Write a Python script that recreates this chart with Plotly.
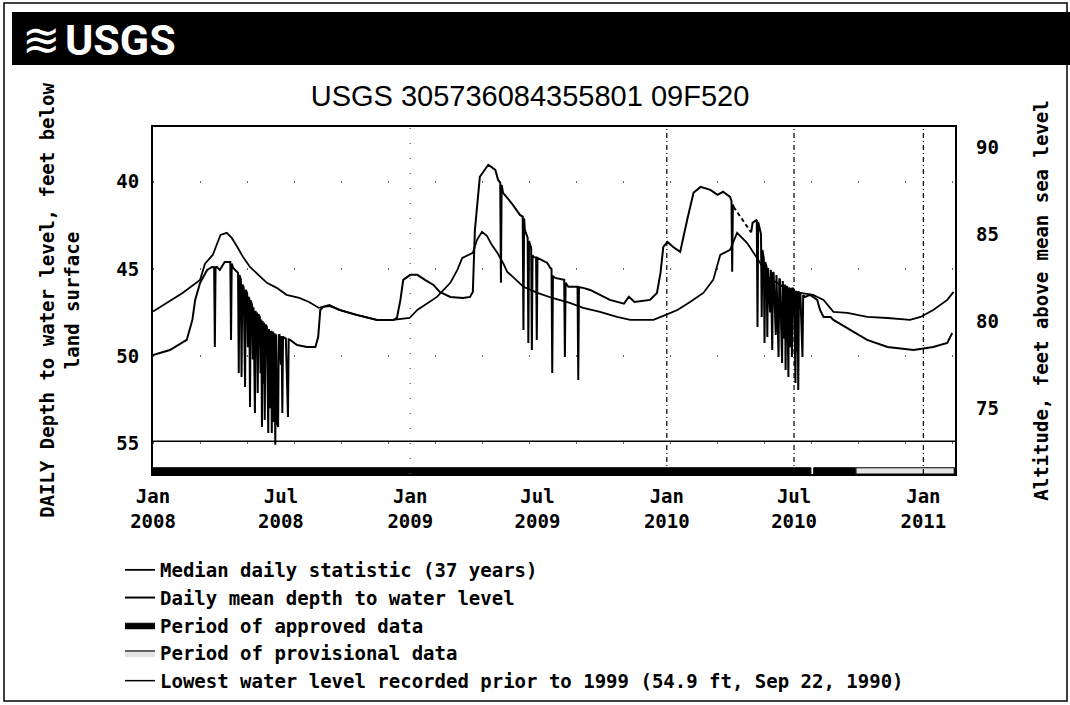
import plotly.graph_objects as go

# ---------------- data ----------------
median_dates = [
    "2008-01-01", "2008-02-12", "2008-03-08", "2008-03-15", "2008-03-26", "2008-04-01",
    "2008-04-06", "2008-04-15", "2008-04-22", "2008-04-30", "2008-05-08", "2008-05-18",
    "2008-05-30", "2008-06-11", "2008-06-25", "2008-07-09", "2008-07-27", "2008-08-10",
    "2008-08-24", "2008-09-08", "2008-09-22", "2008-10-16", "2008-11-14", "2008-12-07",
    "2008-12-31", "2009-01-11", "2009-02-08", "2009-02-27", "2009-03-09", "2009-03-16",
    "2009-03-31", "2009-04-06", "2009-04-13", "2009-04-20", "2009-04-27", "2009-05-05",
    "2009-05-13", "2009-05-19", "2009-05-27", "2009-06-11", "2009-07-01", "2009-07-22",
    "2009-08-16", "2009-09-04", "2009-09-28", "2009-10-22", "2009-11-10", "2009-12-13",
    "2009-12-27", "2010-01-16", "2010-02-03", "2010-02-22", "2010-03-08", "2010-03-18",
    "2010-04-01", "2010-04-11", "2010-04-25", "2010-05-04", "2010-05-14", "2010-05-24",
    "2010-06-07", "2010-06-21", "2010-07-10", "2010-07-28", "2010-08-12", "2010-08-26",
    "2010-09-15", "2010-10-13", "2010-11-11", "2010-12-13", "2010-12-28", "2011-01-15",
    "2011-02-04", "2011-02-13",
]
median_depth = [
    47.45, 46.38, 45.63, 44.70, 44.20, 43.62,
    43.05, 42.93, 43.22, 43.74, 44.31, 44.89,
    45.34, 45.80, 46.09, 46.49, 46.67, 46.90,
    47.24, 47.07, 47.36, 47.64, 47.93, 47.93,
    47.82, 47.36, 46.61, 45.80, 45.06, 44.37,
    44.08, 43.33, 42.87, 43.10, 43.62, 44.08,
    44.66, 45.17, 45.46, 46.03, 46.38, 46.67,
    46.95, 47.24, 47.47, 47.76, 47.93, 47.93,
    47.70, 47.36, 46.90, 46.38, 45.63, 44.20,
    43.91, 42.93, 43.50, 44.08, 44.66, 45.46,
    45.80, 46.21, 46.38, 46.49, 46.78, 47.47,
    47.53, 47.76, 47.82, 47.93, 47.76, 47.36,
    46.78, 46.32,
]

mean_dates = [
    "2008-01-01", "2008-01-25", "2008-02-18", "2008-02-26", "2008-03-01", "2008-03-08",
    "2008-03-18", "2008-03-25", "2008-03-28", "2008-03-29", "2008-03-30", "2008-04-01",
    "2008-04-05", "2008-04-12", "2008-04-20", "2008-04-21", "2008-04-22", "2008-04-24",
    "2008-05-01", "2008-05-02", "2008-05-03", "2008-05-05", "2008-05-06", "2008-05-07",
    "2008-05-09", "2008-05-10", "2008-05-11", "2008-05-12", "2008-05-14", "2008-05-15",
    "2008-05-16", "2008-05-17", "2008-05-18", "2008-05-19", "2008-05-21", "2008-05-22",
    "2008-05-23", "2008-05-25", "2008-05-26", "2008-05-27", "2008-05-28", "2008-05-29",
    "2008-05-30", "2008-06-01", "2008-06-02", "2008-06-03", "2008-06-04", "2008-06-05",
    "2008-06-06", "2008-06-07", "2008-06-08", "2008-06-09", "2008-06-11", "2008-06-12",
    "2008-06-13", "2008-06-14", "2008-06-16", "2008-06-17", "2008-06-18", "2008-06-19",
    "2008-06-20", "2008-06-21", "2008-06-22", "2008-06-23", "2008-06-24", "2008-06-26",
    "2008-06-27", "2008-06-28", "2008-06-29", "2008-07-01", "2008-07-02", "2008-07-03",
    "2008-07-04", "2008-07-08", "2008-07-11", "2008-07-12", "2008-07-14", "2008-07-24",
    "2008-08-07", "2008-08-19", "2008-08-23", "2008-08-26", "2008-08-30", "2008-09-09",
    "2008-09-23", "2008-10-17", "2008-11-15", "2008-12-08", "2008-12-13", "2008-12-18",
    "2008-12-22", "2009-01-01", "2009-01-11", "2009-01-22", "2009-02-03", "2009-02-12",
    "2009-02-27", "2009-03-17", "2009-03-27", "2009-03-31", "2009-04-03", "2009-04-10",
    "2009-04-22", "2009-05-02", "2009-05-06", "2009-05-09", "2009-05-10", "2009-05-11",
    "2009-05-13", "2009-05-19", "2009-05-27", "2009-06-06", "2009-06-10", "2009-06-11",
    "2009-06-12", "2009-06-13", "2009-06-17", "2009-06-18", "2009-06-19", "2009-06-22",
    "2009-06-23", "2009-06-24", "2009-06-25", "2009-06-29", "2009-06-30", "2009-07-01",
    "2009-07-15", "2009-07-19", "2009-07-21", "2009-07-22", "2009-07-23", "2009-07-26",
    "2009-08-07", "2009-08-08", "2009-08-09", "2009-08-10", "2009-08-14", "2009-08-26",
    "2009-08-27", "2009-08-28", "2009-08-29", "2009-09-04", "2009-09-14", "2009-09-28",
    "2009-10-12", "2009-11-01", "2009-11-08", "2009-11-16", "2009-12-08", "2009-12-18",
    "2009-12-23", "2009-12-27", "2010-01-02", "2010-01-10", "2010-01-20", "2010-01-30",
    "2010-02-08", "2010-02-18", "2010-03-04", "2010-03-14", "2010-03-22", "2010-04-01",
    "2010-04-03", "2010-04-04", "2010-04-05", "2010-04-06", None, "2010-05-01",
    "2010-05-03", "2010-05-09", "2010-05-10", "2010-05-11", "2010-05-13", "2010-05-15",
    "2010-05-16", "2010-05-17", "2010-05-19", "2010-05-20", "2010-05-21", "2010-05-23",
    "2010-05-24", "2010-05-25", "2010-05-28", "2010-05-29", "2010-05-31", "2010-06-01",
    "2010-06-02", "2010-06-05", "2010-06-06", "2010-06-09", "2010-06-10", "2010-06-11",
    "2010-06-14", "2010-06-15", "2010-06-17", "2010-06-18", "2010-06-19", "2010-06-20",
    "2010-06-21", "2010-06-23", "2010-06-24", "2010-06-26", "2010-06-27", "2010-06-28",
    "2010-06-29", "2010-07-01", "2010-07-03", "2010-07-04", "2010-07-05", "2010-07-06",
    "2010-07-07", "2010-07-08", "2010-07-10", "2010-07-13", "2010-07-14", "2010-07-17",
    "2010-07-24", "2010-08-03", "2010-08-07", "2010-08-12", "2010-08-22", "2010-08-26",
    "2010-09-19", "2010-10-13", "2010-11-11", "2010-12-18", "2011-01-15", "2011-02-04",
    "2011-02-11",
]
mean_depth = [
    49.95, 49.66, 49.08, 47.93, 46.78, 45.80,
    45.06, 44.89, 44.90, 49.48, 44.90, 44.89,
    45.06, 44.60, 44.60, 49.08, 44.70, 44.94,
    45.23, 50.98, 45.35, 45.60, 51.21, 45.90,
    46.05, 48.60, 51.78, 46.20, 46.40, 49.50,
    46.60, 46.70, 52.93, 46.80, 47.10, 50.20,
    47.20, 53.28, 47.40, 49.80, 47.50, 52.13,
    47.60, 47.76, 51.00, 47.90, 54.08, 48.00,
    51.60, 48.10, 53.68, 48.20, 48.33, 52.40,
    54.43, 48.45, 53.00, 48.55, 54.43, 48.60,
    48.68, 53.80, 48.70, 55.10, 48.75, 53.90,
    54.08, 48.80, 48.79, 50.50, 48.85, 53.28,
    48.90, 49.00, 53.51, 49.05, 49.08, 49.37,
    49.48, 49.48, 48.91, 47.36, 47.18, 47.13,
    47.36, 47.64, 47.93, 47.93, 47.82, 46.78,
    45.63, 45.34, 45.34, 45.63, 45.92, 46.32,
    46.61, 46.67, 46.61, 46.32, 42.76, 39.71,
    39.02, 39.31, 39.89, 40.05, 45.80, 40.17,
    40.63, 40.92, 41.32, 41.90, 42.00, 48.51,
    42.10, 42.76, 43.20, 49.25, 43.40, 43.80,
    49.66, 44.20, 44.31, 44.35, 49.08, 44.37,
    44.66, 44.94, 45.00, 50.98, 45.40, 45.52,
    45.63, 45.63, 50.06, 45.80, 46.03, 46.03,
    46.03, 51.38, 46.05, 46.09, 46.21, 46.49,
    46.78, 47.00, 46.60, 46.90, 46.78, 46.38,
    45.23, 43.74, 43.45, 43.74, 44.02, 42.18,
    40.63, 40.29, 40.46, 40.75, 40.57, 40.86,
    41.10, 45.17, 41.30, 41.44, None, 42.90,
    42.36, 42.18, 48.33, 42.30, 42.59, 43.00,
    47.76, 43.91, 44.40, 49.25, 44.60, 44.89,
    48.91, 44.95, 47.50, 45.05, 49.66, 45.20,
    45.23, 48.80, 45.35, 50.06, 45.55, 45.63,
    50.40, 45.70, 49.00, 45.90, 50.80, 46.00,
    46.03, 51.21, 46.05, 49.50, 46.08, 50.06,
    46.09, 46.20, 51.55, 46.25, 49.80, 46.30,
    51.95, 46.35, 46.38, 50.06, 46.50, 46.61,
    46.49, 46.78, 47.36, 47.76, 47.76, 47.93,
    48.51, 49.08, 49.48, 49.66, 49.48, 49.25,
    48.68,
]

# missing-record span in 2010, drawn dashed
gap_dates = ["2010-04-06", "2010-05-01"]
gap_depth = [41.44, 42.90]

approved_start = ["2008-01-01", "2010-07-29"]
approved_end = ["2010-07-25", "2010-09-26"]
provisional_start = ["2010-09-27"]
provisional_end = ["2011-02-14"]

lowest_level = 54.9
land_surface_altitude = 128.0   # altitude = land surface altitude - depth

tick_dates = ["2008-01-01", "2008-07-01", "2009-01-01", "2009-07-01",
              "2010-01-01", "2010-07-01", "2011-01-01"]
tick_text = ["Jan<br>2008", "Jul<br>2008", "Jan<br>2009", "Jul<br>2009",
             "Jan<br>2010", "Jul<br>2010", "Jan<br>2011"]
depth_ticks = [40, 45, 50, 55]
altitude_ticks = [75, 80, 85, 90]
grid_dates = ["2009-01-01", "2010-01-01", "2010-07-01", "2011-01-01"]

# ---------------- layout constants ----------------
W, H = 1070, 705
PL, PR, PT, PB = 153, 955, 127, 474          # plot area in pixels
X_RANGE = ["2008-01-01", "2011-02-15"]
Y_RANGE = [56.78, 36.85]
BAR_TOP, BAR_BOT = 56.42, 56.78

MONO = "DejaVu Sans Mono, Liberation Mono, monospace"
FONT_B = dict(family=MONO, size=19, color="black", weight="bold")


def px(X):
    return (X - PL) / (PR - PL)


def py(Y):
    return (PB - Y) / (PB - PT)


def bar_polys(starts, ends):
    xs, ys = [], []
    for s, e in zip(starts, ends):
        xs += [s, e, e, s, s, None]
        ys += [BAR_BOT, BAR_BOT, BAR_TOP, BAR_TOP, BAR_BOT, None]
    return xs, ys


fig = go.Figure()

fig.add_trace(go.Scatter(
    x=median_dates, y=median_depth, mode="lines",
    name="Median daily statistic (37 years)",
    line=dict(color="black", width=1.8)))

fig.add_trace(go.Scatter(
    x=mean_dates, y=mean_depth, mode="lines",
    name="Daily mean depth to water level",
    line=dict(color="black", width=2), connectgaps=False))

fig.add_trace(go.Scatter(
    x=gap_dates, y=gap_depth, mode="lines", showlegend=False,
    line=dict(color="black", width=2, dash="4px,3px"), hoverinfo="skip"))

ax, ay = bar_polys(approved_start, approved_end)
fig.add_trace(go.Scatter(
    x=ax, y=ay, mode="lines", fill="toself", fillcolor="black",
    line=dict(color="black", width=1), name="Period of approved data"))

pxs, pys = bar_polys(provisional_start, provisional_end)
fig.add_trace(go.Scatter(
    x=pxs, y=pys, mode="lines", fill="toself", fillcolor="#e4e4e4",
    line=dict(color="black", width=1.2), name="Period of provisional data"))

fig.add_trace(go.Scatter(
    x=X_RANGE, y=[lowest_level, lowest_level], mode="lines",
    name="Lowest water level recorded prior to 1999 (54.9 ft, Sep 22, 1990)",
    line=dict(color="black", width=1.5)))

# invisible trace so the altitude axis is drawn
fig.add_trace(go.Scatter(x=[None], y=[None], yaxis="y2", showlegend=False,
                         hoverinfo="skip"))

shapes = []
# vertical dotted grid lines that survive in the reference
for i, d in enumerate(grid_dates):
    faint = (i == 0)
    shapes.append(dict(
        type="line", xref="x", yref="paper", x0=d, x1=d, y0=0, y1=1,
        line=dict(color="#555" if faint else "black", width=1.2,
                  dash="1px,14px" if faint else "5px,3px,1px,3px"),
        layer="above"))
# header bar
shapes.append(dict(type="rect", xref="paper", yref="paper",
                   x0=px(12), x1=px(1072), y0=py(65), y1=py(12),
                   fillcolor="black", line=dict(width=0), layer="above"))
# outer frame
shapes.append(dict(type="rect", xref="paper", yref="paper",
                   x0=px(4), x1=px(1067), y0=py(701), y1=py(3),
                   fillcolor="rgba(0,0,0,0)", line=dict(color="black", width=1.5)))

annotations = [
    dict(text="≋", xref="paper", yref="paper", x=px(42), y=py(40),
         xanchor="center", yanchor="middle", showarrow=False,
         font=dict(family="DejaVu Sans", size=46, color="white")),
    dict(text="<b>USGS</b>", xref="paper", yref="paper", x=px(63), y=py(40),
         xanchor="left", yanchor="middle", showarrow=False,
         font=dict(family="Roboto, Liberation Sans, sans-serif", size=43, color="white")),
]

fig.update_layout(
    width=W, height=H,
    margin=dict(l=PL, r=W - PR, t=PT, b=H - PB, pad=0, autoexpand=False),
    paper_bgcolor="white", plot_bgcolor="white",
    title=dict(text="USGS 305736084355801 09F520", x=px(530), xref="paper",
               xanchor="center", y=1 - 96 / H, yanchor="middle",
               font=dict(family="Liberation Sans, Arial, sans-serif", size=29, color="black")),
    showlegend=True,
    legend=dict(x=px(120), y=py(551), xanchor="left", yanchor="top",
                font=dict(family=MONO, size=19, color="black", weight="bold"),
                bgcolor="rgba(0,0,0,0)", itemwidth=30, tracegroupgap=0),
    xaxis=dict(type="date", range=X_RANGE, tickvals=tick_dates, ticktext=tick_text,
               ticks="", showgrid=False, zeroline=False, automargin=False,
               showline=True, linecolor="black", linewidth=2, mirror=True,
               tickfont=FONT_B, ticklabelstandoff=4),
    yaxis=dict(range=Y_RANGE, tickvals=depth_ticks, ticks="", zeroline=False,
               automargin=False,
               showline=True, linecolor="black", linewidth=2, mirror=True,
               showgrid=True, gridcolor="#666", gridwidth=1.5, griddash="1px,46px",
               tickfont=FONT_B, ticklabelstandoff=8,
               title=dict(text="DAILY Depth to water level, feet below<br>land surface",
                          font=FONT_B, standoff=32)),
    yaxis2=dict(overlaying="y", side="right", anchor="x", automargin=False,
                range=[land_surface_altitude - Y_RANGE[0], land_surface_altitude - Y_RANGE[1]],
                tickvals=altitude_ticks, ticks="", showgrid=False, zeroline=False,
                showline=False, tickfont=FONT_B, ticklabelstandoff=20,
                title=dict(text="Altitude, feet above mean sea level",
                           font=FONT_B, standoff=36)),
    shapes=shapes,
    annotations=annotations,
)

# the page's default 8px body margin would shift the whole picture
fig.write_html("out.html", config={"displayModeBar": False},
               post_script="document.body.style.margin='0';")
